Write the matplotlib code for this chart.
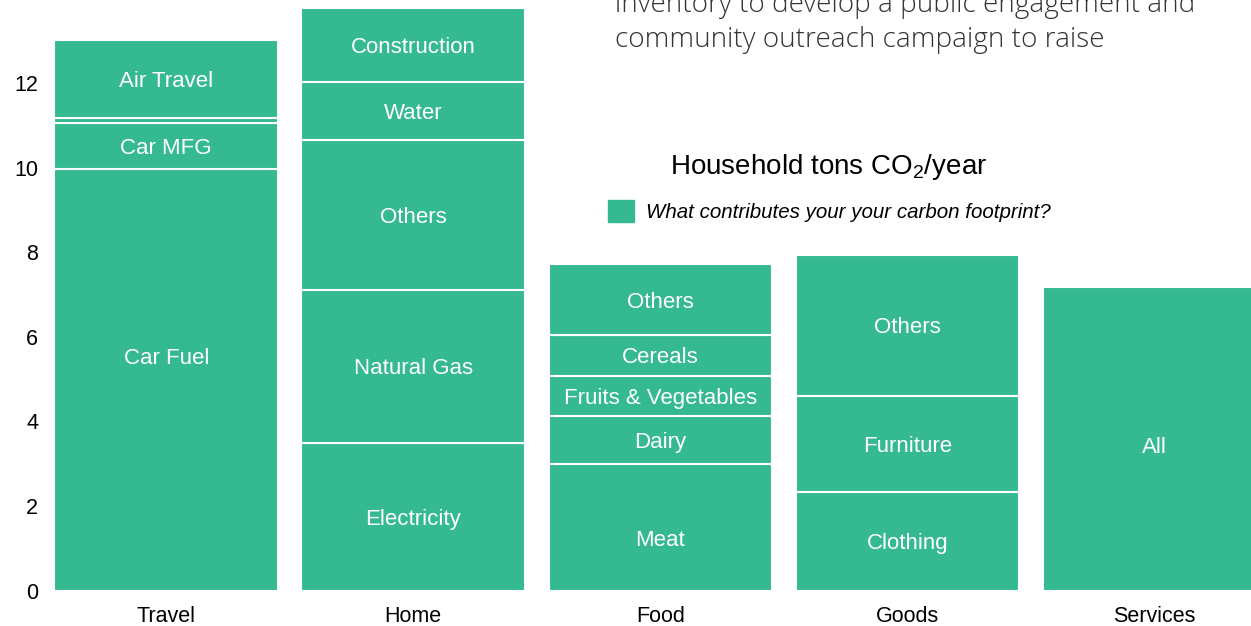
import matplotlib
matplotlib.use("Agg")
import matplotlib.pyplot as plt
from matplotlib.patches import Patch

plt.rcParams.update({
    'font.family': 'Liberation Sans',
    'mathtext.fontset': 'custom',
    'mathtext.rm': 'Liberation Sans',
    'mathtext.default': 'regular',
})

# household tons CO2 / year, stacked bottom -> top
categories = ["Travel", "Home", "Food", "Goods", "Services"]

travel_parts = ["Car Fuel", "Car MFG", "", "Air Travel"]
travel_vals = [9.97, 1.09, 0.11, 1.84]

home_parts = ["Electricity", "Natural Gas", "Others", "Water", "Construction"]
home_vals = [3.50, 3.61, 3.54, 1.38, 1.75]

food_parts = ["Meat", "Dairy", "Fruits & Vegetables", "Cereals", "Others"]
food_vals = [3.00, 1.14, 0.94, 0.96, 1.68]

goods_parts = ["Clothing", "Furniture", "Others"]
goods_vals = [2.34, 2.26, 3.34]

services_parts = ["All"]
services_vals = [7.17]

yticks = [0, 2, 4, 6, 8, 10, 12]

parts = [travel_parts, home_parts, food_parts, goods_parts, services_parts]
vals = [travel_vals, home_vals, food_vals, goods_vals, services_vals]

# a few labels sit off the segment centre in the original
label_y = {("Travel", "Car Fuel"): 5.55, ("Food", "Meat"): 1.25,
           ("Services", "All"): 3.44}

green = '#34b991'

fig = plt.figure(figsize=(12.51, 6.26), dpi=100)
ax = fig.add_axes([55/1251, 35.3/626, 1196/1251, 590.7/626])

for i, cat in enumerate(categories):
    bottom = 0
    for name, v in zip(parts[i], vals[i]):
        ax.bar(i, v, bottom=bottom, width=0.905, color=green,
               edgecolor='white', linewidth=1.5)
        if name:
            y = label_y.get((cat, name), bottom + v / 2)
            ax.text(i, y, name, ha='center', va='center_baseline',
                    color='white', fontsize=16)
        bottom += v

ax.set_xlim(-0.45, 4.39)
ax.set_ylim(0, 13.96)
ax.set_xticks(range(len(categories)))
ax.set_xticklabels(categories, fontsize=15.5)
ax.set_yticks(yticks)
ax.set_yticklabels([str(t) for t in yticks], fontsize=15.5)
ax.tick_params(axis='both', length=0)
ax.tick_params(axis='y', pad=12)
ax.tick_params(axis='x', pad=11)
for s in ax.spines.values():
    s.set_visible(False)

leg = ax.legend(handles=[Patch(color=green)],
                labels=["What contributes your your carbon footprint?"],
                title="Household tons CO$_2$/year",
                loc='center', bbox_to_anchor=(829/1251, 1 - 187/626),
                bbox_transform=fig.transFigure, frameon=False,
                prop={'style': 'italic', 'size': 14.8},
                title_fontproperties={'size': 20},
                labelspacing=0.85,
                handlelength=1.3, handleheight=1.3, handletextpad=0.55)

fig.text(615/1251, 1 - 11.7/626, "inventory to develop a public engagement and",
         fontsize=20.1, family='Open Sans', weight='light', color='#333333',
         va='baseline', ha='left')
fig.text(615/1251, 1 - 46.7/626, "community outreach campaign to raise",
         fontsize=20.1, family='Open Sans', weight='light', color='#333333',
         va='baseline', ha='left')

fig.savefig("out.png", dpi=100)
